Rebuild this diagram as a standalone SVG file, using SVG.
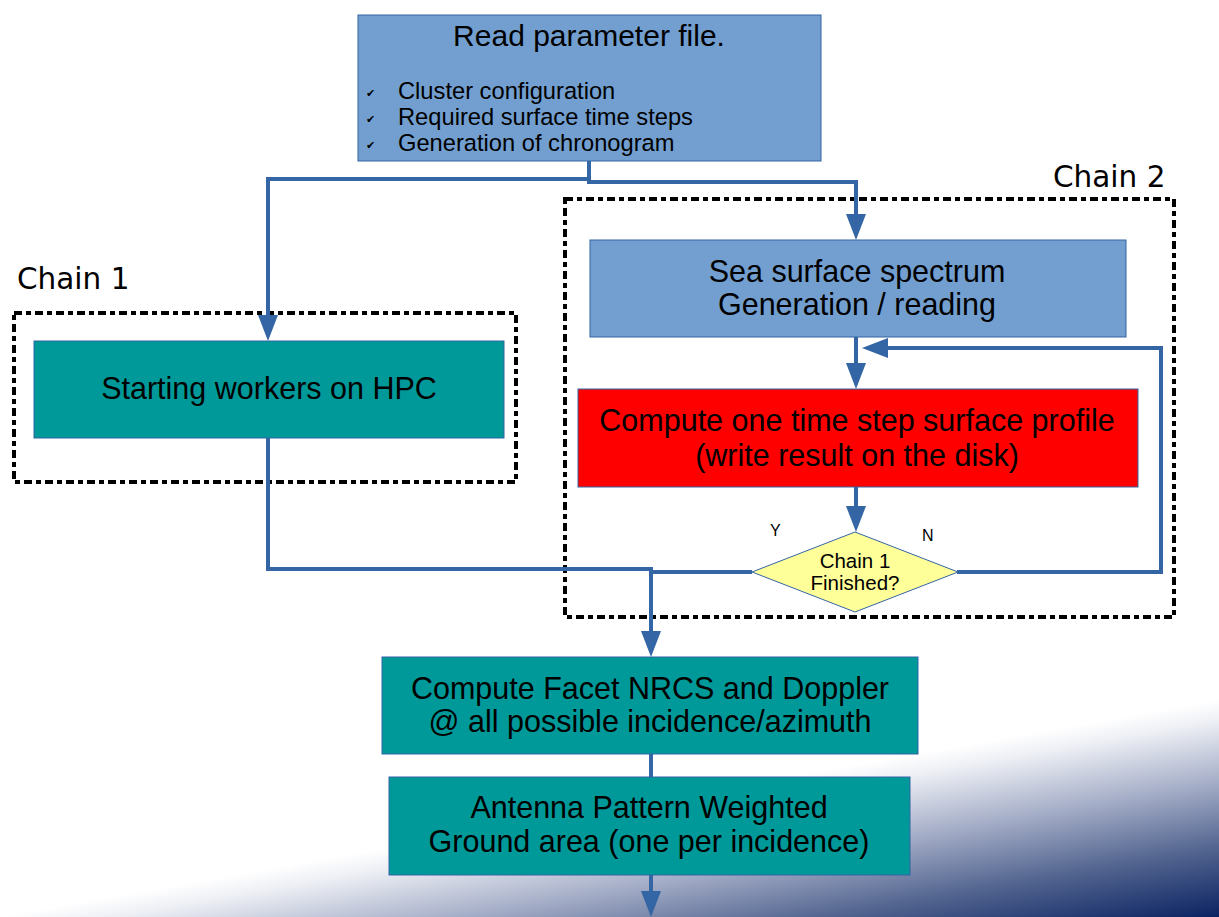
<svg xmlns="http://www.w3.org/2000/svg" width="1219" height="917" viewBox="0 0 1219 917">
<defs>
<linearGradient id="bg" gradientUnits="userSpaceOnUse" x1="1181.6" y1="706.7" x2="1219" y2="917">
<stop offset="0" stop-color="#ffffff"/>
<stop offset="0.1" stop-color="#eceef4"/>
<stop offset="0.38" stop-color="#a4adc7"/>
<stop offset="0.68" stop-color="#52648f"/>
<stop offset="1" stop-color="#0b2362"/>
</linearGradient>
<marker id="arr" markerUnits="userSpaceOnUse" viewBox="0 0 26 20" refX="12" refY="10" markerWidth="26" markerHeight="20" orient="auto">
<path d="M0 0 L26 10 L0 20 Z" fill="#3465a4"/>
</marker>
<style>
.blue{fill:#729fcf;stroke:#3465a4;stroke-width:1}
.teal{fill:#009999;stroke:#3465a4;stroke-width:1}
.red{fill:#ff0000;stroke:#3465a4;stroke-width:1}
.dia{fill:#ffff99;stroke:#3465a4;stroke-width:1}
.t{font-family:"Liberation Sans",Arial,sans-serif;font-size:30.5px;fill:#000;text-anchor:middle}
.b{font-family:"Liberation Sans",Arial,sans-serif;font-size:23.7px;fill:#000}
.chk{font-family:"DejaVu Sans",sans-serif;font-size:11px;fill:#000}
.lab{font-family:"DejaVu Sans",sans-serif;font-size:29.5px;fill:#000}
.small{font-family:"Liberation Sans",Arial,sans-serif;font-size:16px;fill:#000}
.dt{font-family:"Liberation Sans",Arial,sans-serif;font-size:20.5px;fill:#000;text-anchor:middle}
.dash{fill:none;stroke:#000;stroke-width:4;stroke-dasharray:8 4 5 4}
.c{fill:none;stroke:#3465a4;stroke-width:4}
</style>
</defs>
<rect x="0" y="0" width="1219" height="917" fill="#ffffff"/>
<rect x="0" y="680" width="1219" height="237" fill="url(#bg)"/>

<g id="chain1-group">
<rect class="dash" x="14" y="313" width="502" height="169"/>
<text class="lab" x="17" y="289">Chain 1</text>
</g>
<g id="chain2-group">
<rect class="dash" x="565" y="199" width="609" height="418"/>
<text class="lab" x="1053" y="187">Chain 2</text>
</g>

<g id="connectors">
<path class="c" d="M589 161 V179 H268 V327" marker-end="url(#arr)"/>
<path class="c" d="M589 179 V182 H856 V226" marker-end="url(#arr)"/>
<path class="c" d="M856 337 V375" marker-end="url(#arr)"/>
<path class="c" d="M957 572 H1161 V348 H876" marker-end="url(#arr)"/>
<path class="c" d="M856 487 V518" marker-end="url(#arr)"/>
<path class="c" d="M268 438 V569 H651"/>
<path class="c" d="M752 572 H651"/>
<path class="c" d="M651 567 V643" marker-end="url(#arr)"/>
<path class="c" d="M651 754 V777"/>
<path class="c" d="M651 875 V903" marker-end="url(#arr)"/>
</g>

<g id="read-params">
<rect class="blue" x="358" y="15" width="463" height="146"/>
<text class="t" x="589" y="46" style="font-size:30px">Read parameter file.</text>
<text class="chk" x="366" y="97">✔</text>
<text class="chk" x="366" y="123">✔</text>
<text class="chk" x="366" y="149">✔</text>
<text class="b" x="398" y="99">Cluster configuration</text>
<text class="b" x="398" y="125">Required surface time steps</text>
<text class="b" x="398" y="151">Generation of chronogram</text>
</g>

<g id="starting-workers">
<rect class="teal" x="34" y="341" width="470" height="97"/>
<text class="t" x="269" y="399">Starting workers on HPC</text>
</g>

<g id="sea-surface">
<rect class="blue" x="590" y="240" width="536" height="97"/>
<text class="t" x="857" y="282">Sea surface spectrum</text>
<text class="t" x="857" y="315">Generation / reading</text>
</g>

<g id="compute-profile">
<rect class="red" x="578" y="389" width="560" height="98"/>
<text class="t" x="857" y="431">Compute one time step surface profile</text>
<text class="t" x="857" y="466">(write result on the disk)</text>
</g>

<g id="decision">
<polygon class="dia" points="855,532 958,572 855,612 752,572"/>
<text class="dt" x="855" y="568">Chain 1</text>
<text class="dt" x="855" y="590">Finished?</text>
<text class="small" x="770" y="536">Y</text>
<text class="small" x="922" y="541">N</text>
</g>

<g id="compute-nrcs">
<rect class="teal" x="382" y="657" width="536" height="97"/>
<text class="t" x="650" y="699">Compute Facet NRCS and Doppler</text>
<text class="t" x="650" y="732">@ all possible incidence/azimuth</text>
</g>

<g id="antenna">
<rect class="teal" x="389" y="777" width="521" height="98"/>
<text class="t" x="649" y="818">Antenna Pattern Weighted</text>
<text class="t" x="649" y="852">Ground area (one per incidence)</text>
</g>
</svg>
